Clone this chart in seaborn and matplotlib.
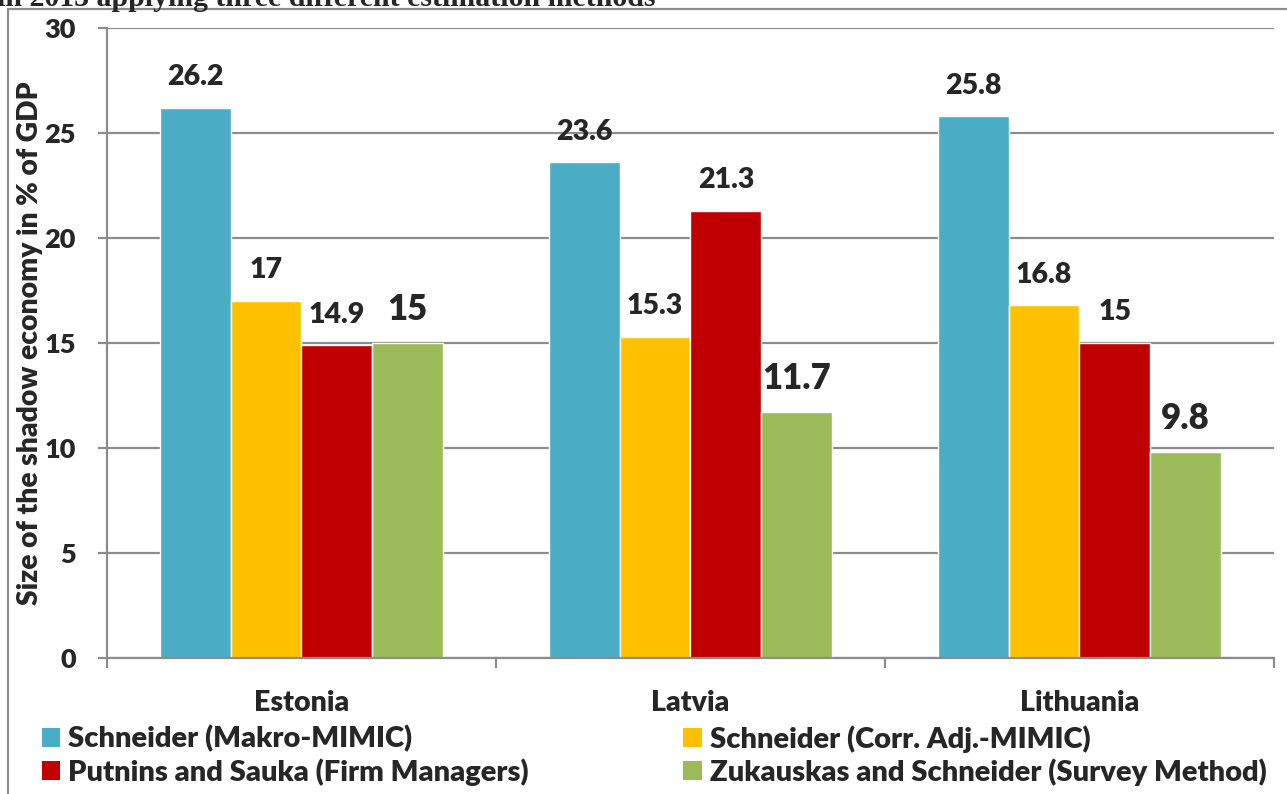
import matplotlib
matplotlib.use("Agg")
import matplotlib.pyplot as plt
from matplotlib.patches import Rectangle, Patch
import seaborn as sns
import pandas as pd

# chart data
countries = ["Estonia", "Latvia", "Lithuania"]
methods = [
    "Schneider (Makro-MIMIC)",
    "Schneider (Corr. Adj.-MIMIC)",
    "Putnins and Sauka (Firm Managers)",
    "Zukauskas and Schneider (Survey Method)",
]
makro_mimic = [26.2, 23.6, 25.8]
corr_adj_mimic = [17, 15.3, 16.8]
firm_managers = [14.9, 21.3, 15]
survey_method = [15, 11.7, 9.8]
y_ticks = [0, 5, 10, 15, 20, 25, 30]

colors = ["#4BACC6", "#FFC000", "#C00000", "#9BBB59"]
label_sizes = [20.5, 20.5, 20.5, 25]
label_offsets = [22, 22, 22, 24]

series = [makro_mimic, corr_adj_mimic, firm_managers, survey_method]
rows = []
for m, vals in zip(methods, series):
    for c, v in zip(countries, vals):
        rows.append({"country": c, "method": m, "value": v})
df = pd.DataFrame(rows)

sns.set_style("white")
plt.rcParams["font.family"] = ["Lato", "DejaVu Sans"]
W = "heavy"

fig = plt.figure(figsize=(12.87, 7.94), dpi=100)
ax = fig.add_axes([0.0831, 0.1713, 0.9068, 0.7934])

sns.barplot(data=df, x="country", y="value", hue="method", order=countries,
            hue_order=methods, palette=colors, width=0.727, gap=0,
            saturation=1, legend=False, ax=ax)

grey = "#8C8C8C"
ax.set_ylim(0, 30)
ax.set_xlim(-0.5, 2.5)
ax.set_yticks(y_ticks)
ax.yaxis.grid(True, color=grey, linewidth=1.6)
ax.set_axisbelow(True)
for s in ["top", "right"]:
    ax.spines[s].set_visible(False)
for s in ["left", "bottom"]:
    ax.spines[s].set_color(grey)
    ax.spines[s].set_linewidth(1.6)
ax.tick_params(axis="y", which="major", length=6.5, width=1.6, color=grey,
               direction="out", left=True, pad=16, labelsize=19.5)
ax.tick_params(axis="x", which="major", length=0, pad=23, labelsize=20.5)
ax.set_xticks([-0.5, 0.5, 1.5, 2.5], minor=True)
ax.tick_params(axis="x", which="minor", length=7, width=1.6, color=grey,
               direction="out", bottom=True)
for lab in ax.get_yticklabels() + ax.get_xticklabels():
    lab.set_fontweight(W)
ax.set_xlabel("")
ax.set_ylabel("Size of the shadow economy in % of GDP", fontsize=20.3,
              fontweight=W)
ax.yaxis.set_label_coords(-0.0548, 0.5)

# value labels above bars
for cont, size, off in zip(ax.containers, label_sizes, label_offsets):
    for bar in cont:
        h = bar.get_height()
        ax.annotate(f"{h:g}", (bar.get_x() + bar.get_width() / 2, h),
                    xytext=(0, off), textcoords="offset points",
                    ha="center", va="center", fontsize=size, fontweight=W)

# legend in two rows below the plot (row-wise order)
handles = [Patch(facecolor=c, edgecolor="none") for c in colors]
order = [0, 2, 1, 3]
fig.legend([handles[i] for i in order], [methods[i] for i in order],
           loc="upper left", bbox_to_anchor=(42 / 1287, 1 - 725 / 794),
           ncol=2, frameon=False, prop={"size": 21, "weight": W},
           handlelength=0.62, handleheight=0.62, handletextpad=0.28,
           columnspacing=5.3, labelspacing=0.2, borderaxespad=0, borderpad=0)

# chart frame and cut-off caption
fig.patches.append(Rectangle((8 / 1287, -0.1), 1.2, 1.1 - 9 / 794,
                             transform=fig.transFigure, fill=False,
                             edgecolor=grey, linewidth=1.6))
fig.text(-0.002, 1 - 6 / 794, "in 2013 applying three different estimation methods",
         family=["Liberation Serif"], fontweight="bold", fontsize=21.5,
         va="baseline", ha="left")

fig.savefig("out.png", dpi=100)
